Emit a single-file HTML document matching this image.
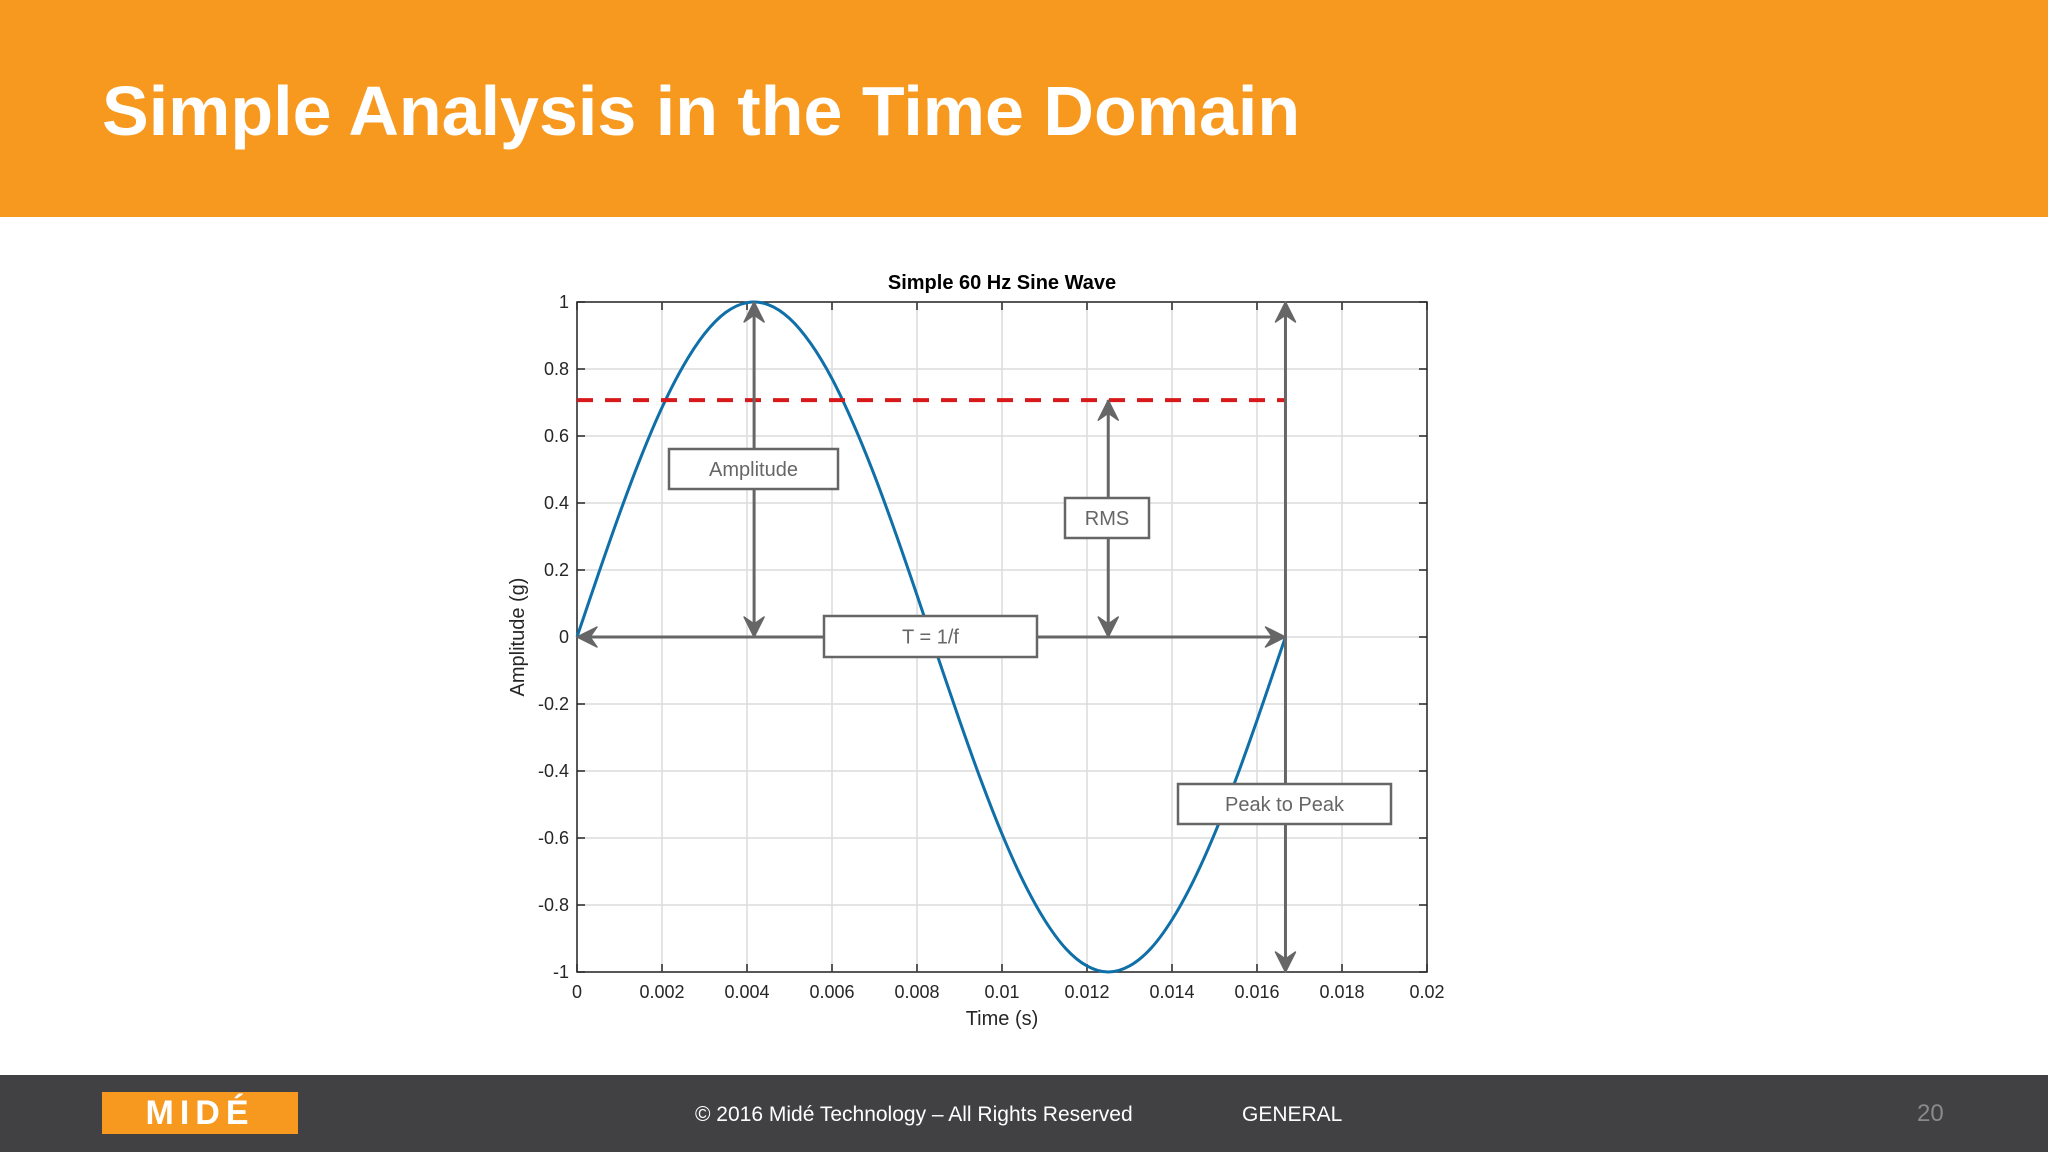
<!DOCTYPE html>
<html><head><meta charset="utf-8"><style>
html,body{margin:0;padding:0;width:2048px;height:1152px;overflow:hidden;background:#fff;font-family:"Liberation Sans",sans-serif}
#hdr{position:absolute;left:0;top:0;width:2048px;height:217px;background:#f7981f}
#title{position:absolute;left:102px;top:76px;color:#fff;font-weight:bold;font-size:70px;line-height:1}
#ftr{position:absolute;left:0;top:1075px;width:2048px;height:77px;background:#414143}
#logo{position:absolute;left:102px;top:1092px;width:196px;height:42px;background:#f7981f;color:#fff;font-weight:bold;font-size:34px;line-height:42px;text-align:center;letter-spacing:6px}
.ft{position:absolute;top:1103px;color:#fff;font-size:21px}
svg{position:absolute;left:0;top:0}
</style></head><body>
<div id="hdr"></div>
<div id="title">Simple Analysis in the Time Domain</div>
<div id="ftr"></div>
<div id="logo">MIDÉ</div>
<div class="ft" style="left:695px">© 2016 Midé Technology – All Rights Reserved</div>
<div class="ft" style="left:1242px">GENERAL</div>
<div class="ft" style="left:1917px;color:#8a8a8a;font-size:24px;top:1100px">20</div>
<svg id="chart" width="2048" height="1152"></svg>
<script>
const xTicks=[0,0.002,0.004,0.006,0.008,0.01,0.012,0.014,0.016,0.018,0.02];
const xTickLabels=["0","0.002","0.004","0.006","0.008","0.01","0.012","0.014","0.016","0.018","0.02"];
const yTicks=[-1,-0.8,-0.6,-0.4,-0.2,0,0.2,0.4,0.6,0.8,1];
const yTickLabels=["-1","-0.8","-0.6","-0.4","-0.2","0","0.2","0.4","0.6","0.8","1"];
const times=[0,0.0005,0.001,0.0015,0.002,0.0025,0.003,0.0035,0.004,0.0045,0.005,0.0055,0.006,0.0065,0.007,0.0075,0.008,0.0085,0.009,0.0095,0.01,0.0105,0.011,0.0115,0.012,0.0125,0.013,0.0135,0.014,0.0145,0.015,0.0155,0.016,0.0165,0.01667];
const amps=[0,0.187,0.368,0.536,0.685,0.809,0.905,0.969,0.998,0.992,0.951,0.876,0.771,0.637,0.482,0.309,0.125,-0.063,-0.249,-0.426,-0.588,-0.729,-0.844,-0.930,-0.982,-1.000,-0.982,-0.930,-0.844,-0.729,-0.588,-0.426,-0.249,-0.063,0];
const rmsValue=[0.707];
const period=[0.01667];
const peakTime=[0.004167];
const rmsTime=[0.0125];

const L=577,R=1427,T=302,B=972;
const X=v=>L+(v-0)/0.02*(R-L);
const Y=v=>B-(v+1)/2*(B-T);
const svg=document.getElementById('chart');
const NS='http://www.w3.org/2000/svg';
function mk(tag,a,parent){const e=document.createElementNS(NS,tag);for(const k in a)e.setAttribute(k,a[k]);(parent||svg).appendChild(e);return e;}

xTicks.forEach((t,i)=>{
 const g=mk('line',{x1:X(t),x2:X(t),y1:T,y2:B,stroke:'#dcdcdc','stroke-width':1.5});
 
 
 mk('line',{x1:X(t),x2:X(t),y1:B,y2:B-8,stroke:'#262626','stroke-width':1.5});
 mk('line',{x1:X(t),x2:X(t),y1:T,y2:T+8,stroke:'#262626','stroke-width':1.5});
 const tx=mk('text',{x:X(t),y:B+26,'text-anchor':'middle','font-size':18,fill:'#262626'});
 tx.textContent=xTickLabels[i];
 
 
});
yTicks.forEach((v,i)=>{
 const g=mk('line',{x1:L,x2:R,y1:Y(v),y2:Y(v),stroke:'#dcdcdc','stroke-width':1.5});
 
 
 mk('line',{x1:L,x2:L+8,y1:Y(v),y2:Y(v),stroke:'#262626','stroke-width':1.5});
 mk('line',{x1:R,x2:R-8,y1:Y(v),y2:Y(v),stroke:'#262626','stroke-width':1.5});
 const tx=mk('text',{x:L-8,y:Y(v)+6,'text-anchor':'end','font-size':18,fill:'#262626'});
 tx.textContent=yTickLabels[i];
 
 
});
const box=mk('rect',{x:L,y:T,width:R-L,height:B-T,fill:'none',stroke:'#262626','stroke-width':1.5});



let ttl=mk('text',{x:(L+R)/2,y:289,'text-anchor':'middle','font-size':20,'font-weight':'bold',fill:'#000'});
ttl.textContent='Simple 60 Hz Sine Wave';


let xt=mk('text',{x:(L+R)/2,y:1025,'text-anchor':'middle','font-size':20,fill:'#262626'});
xt.textContent='Time (s)';


let yt=mk('text',{x:0,y:0,'text-anchor':'middle','font-size':20,fill:'#262626',transform:`translate(524,${Y(0)}) rotate(-90)`});
yt.textContent='Amplitude (g)';



const P=times.map((t,i)=>[X(t),Y(amps[i])]);
let d=`M${P[0][0]},${P[0][1]}`;
for(let i=0;i<P.length-1;i++){const p0=P[Math.max(0,i-1)],p1=P[i],p2=P[i+1],p3=P[Math.min(P.length-1,i+2)];
 d+=` C${p1[0]+(p2[0]-p0[0])/6},${p1[1]+(p2[1]-p0[1])/6} ${p2[0]-(p3[0]-p1[0])/6},${p2[1]-(p3[1]-p1[1])/6} ${p2[0]},${p2[1]}`;}
const curve=mk('path',{d:d,fill:'none',stroke:'#0f6fa8','stroke-width':3});



const rms=mk('line',{x1:X(0),x2:X(period[0]),y1:Y(rmsValue[0]),y2:Y(rmsValue[0]),stroke:'#d7191c','stroke-width':4,'stroke-dasharray':'16,12'});



const G='#666';
function head(x,y,dir){
 const a=dir*Math.PI/180,s=20,w=10;
 const bx=x-s*Math.cos(a),by=y-s*Math.sin(a);
 const nx=-Math.sin(a)*w,ny=Math.cos(a)*w;
 const ix=x-s*0.65*Math.cos(a),iy=y-s*0.65*Math.sin(a);
 mk('path',{d:`M${x},${y} L${bx+nx},${by+ny} L${ix},${iy} L${bx-nx},${by-ny} Z`,fill:G,stroke:G,'stroke-width':1.5,'stroke-linejoin':'round'});
}
function arrow(x1,y1,x2,y2,name){
 const l=mk('line',{x1,y1,x2,y2,stroke:G,'stroke-width':3});
 
 
 const ang=Math.atan2(y2-y1,x2-x1)*180/Math.PI;
 head(x2,y2,ang);head(x1,y1,ang+180);
}
arrow(X(peakTime[0]),Y(0),X(peakTime[0]),Y(1),'amplitude-arrow');
arrow(X(rmsTime[0]),Y(0),X(rmsTime[0]),Y(rmsValue[0]),'rms-arrow');
arrow(X(0),Y(0),X(period[0]),Y(0),'period-arrow');
arrow(X(period[0]),Y(-1),X(period[0]),Y(1),'peak-to-peak-arrow');

function label(x,y,w,h,txt,name){
 const r=mk('rect',{x,y,width:w,height:h,fill:'#fff',stroke:G,'stroke-width':2.5});
 
 
 const t=mk('text',{x:x+w/2,y:y+h/2+7,'text-anchor':'middle','font-size':20,fill:'#666'});
 t.textContent=txt;
}
label(669,449,169,40,'Amplitude','amplitude-label');
label(824,616,213,41,'T = 1/f','period-label');
label(1065,498,84,40,'RMS','rms-label');
label(1178,784,213,40,'Peak to Peak','peak-to-peak-label');
</script>
</body></html>
